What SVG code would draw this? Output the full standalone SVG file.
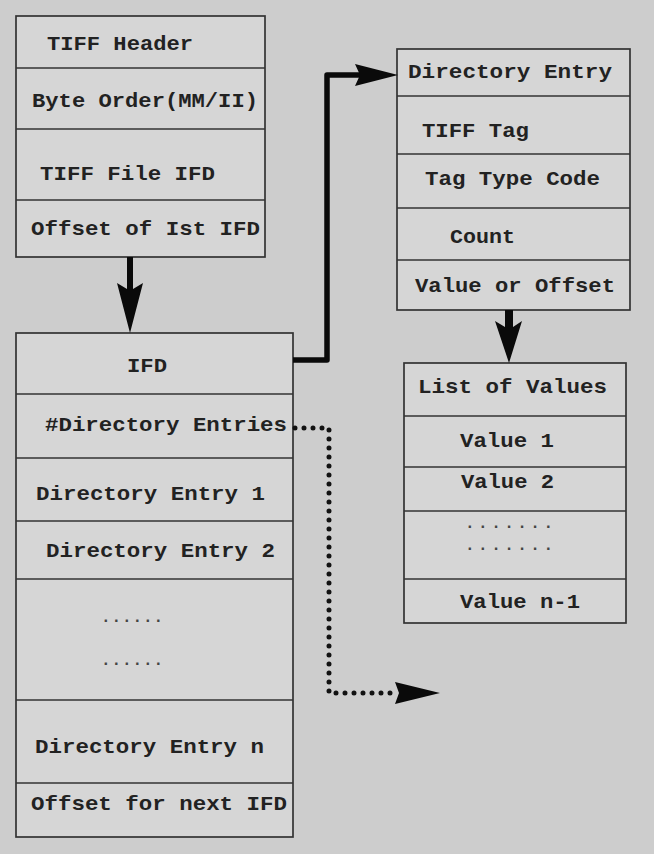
<svg xmlns="http://www.w3.org/2000/svg" width="654" height="854" viewBox="0 0 654 854">
<style>
.box{fill:#d6d6d6;stroke:#333;stroke-width:1.7}
.div{stroke:#333;stroke-width:1.7}
.t{font-family:"Liberation Mono","DejaVu Sans Mono",monospace;font-weight:bold;font-size:21px;fill:#222}
.dots{font-family:"Liberation Mono","DejaVu Sans Mono",monospace;font-weight:bold;font-size:16px;fill:#444}
.solid{fill:none;stroke:#0a0a0a;stroke-width:5.5;stroke-linejoin:round}
.dotted{fill:none;stroke:#111;stroke-width:5;stroke-dasharray:0 9;stroke-linecap:round}
.head{fill:#0a0a0a}
</style>
<rect width="654" height="854" fill="#cdcdcd"/>

<g id="tiff-header">
<rect class="box" x="16" y="16" width="249" height="241"/>
<line class="div" x1="16" y1="68" x2="265" y2="68"/>
<line class="div" x1="16" y1="129" x2="265" y2="129"/>
<line class="div" x1="16" y1="200" x2="265" y2="200"/>
<text class="t" x="47" y="50" textLength="146" lengthAdjust="spacingAndGlyphs">TIFF Header</text>
<text class="t" x="32" y="107" textLength="226" lengthAdjust="spacingAndGlyphs">Byte Order(MM/II)</text>
<text class="t" x="40" y="180" textLength="175" lengthAdjust="spacingAndGlyphs">TIFF File IFD</text>
<text class="t" x="31" y="235" textLength="229" lengthAdjust="spacingAndGlyphs">Offset of Ist IFD</text>
</g>

<g id="ifd">
<rect class="box" x="16" y="333" width="277" height="504"/>
<line class="div" x1="16" y1="394" x2="293" y2="394"/>
<line class="div" x1="16" y1="458" x2="293" y2="458"/>
<line class="div" x1="16" y1="521" x2="293" y2="521"/>
<line class="div" x1="16" y1="579" x2="293" y2="579"/>
<line class="div" x1="16" y1="700" x2="293" y2="700"/>
<line class="div" x1="16" y1="783" x2="293" y2="783"/>
<text class="t" x="127" y="372" textLength="40" lengthAdjust="spacingAndGlyphs">IFD</text>
<text class="t" x="45" y="431" textLength="242" lengthAdjust="spacingAndGlyphs">#Directory Entries</text>
<text class="t" x="36" y="500" textLength="229" lengthAdjust="spacingAndGlyphs">Directory Entry 1</text>
<text class="t" x="46" y="557" textLength="229" lengthAdjust="spacingAndGlyphs">Directory Entry 2</text>
<text class="dots" x="101" y="622" textLength="62" lengthAdjust="spacing">......</text>
<text class="dots" x="101" y="665" textLength="62" lengthAdjust="spacing">......</text>
<text class="t" x="35" y="753" textLength="229" lengthAdjust="spacingAndGlyphs">Directory Entry n</text>
<text class="t" x="31" y="810" textLength="256" lengthAdjust="spacingAndGlyphs">Offset for next IFD</text>
</g>

<g id="directory-entry">
<rect class="box" x="397" y="49" width="233" height="261"/>
<line class="div" x1="397" y1="96" x2="630" y2="96"/>
<line class="div" x1="397" y1="154" x2="630" y2="154"/>
<line class="div" x1="397" y1="208" x2="630" y2="208"/>
<line class="div" x1="397" y1="260" x2="630" y2="260"/>
<text class="t" x="408" y="78" textLength="204" lengthAdjust="spacingAndGlyphs">Directory Entry</text>
<text class="t" x="422" y="137" textLength="107" lengthAdjust="spacingAndGlyphs">TIFF Tag</text>
<text class="t" x="425" y="185" textLength="175" lengthAdjust="spacingAndGlyphs">Tag Type Code</text>
<text class="t" x="450" y="243" textLength="65" lengthAdjust="spacingAndGlyphs">Count</text>
<text class="t" x="415" y="292" textLength="200" lengthAdjust="spacingAndGlyphs">Value or Offset</text>
</g>

<g id="list-of-values">
<rect class="box" x="404" y="363" width="222" height="260"/>
<line class="div" x1="404" y1="416" x2="626" y2="416"/>
<line class="div" x1="404" y1="467" x2="626" y2="467"/>
<line class="div" x1="404" y1="511" x2="626" y2="511"/>
<line class="div" x1="404" y1="579" x2="626" y2="579"/>
<text class="t" x="418" y="393" textLength="189" lengthAdjust="spacingAndGlyphs">List of Values</text>
<text class="t" x="460" y="447" textLength="94" lengthAdjust="spacingAndGlyphs">Value 1</text>
<text class="t" x="461" y="488" textLength="93" lengthAdjust="spacingAndGlyphs">Value 2</text>
<text class="dots" x="465" y="528" textLength="88" lengthAdjust="spacing">.......</text>
<text class="dots" x="465" y="550" textLength="88" lengthAdjust="spacing">.......</text>
<text class="t" x="460" y="608" textLength="120" lengthAdjust="spacingAndGlyphs">Value n-1</text>
</g>

<g id="connectors">
<polygon class="head" points="127,257 133,257 133,289 143,283 130,333 117,283 127,289"/>
<polygon class="head" points="505,310 513,310 513,327 522,321 509,363 495,321 505,327"/>
<path class="solid" d="M293,360 H327 V75 H360"/>
<polygon class="head" points="355,64 398,75 355,86 360,75"/>
<path class="dotted" d="M295,428 H329 V693 H395"/>
<polygon class="head" points="395,682 440,693 395,704 399,693"/>
</g>
</svg>
